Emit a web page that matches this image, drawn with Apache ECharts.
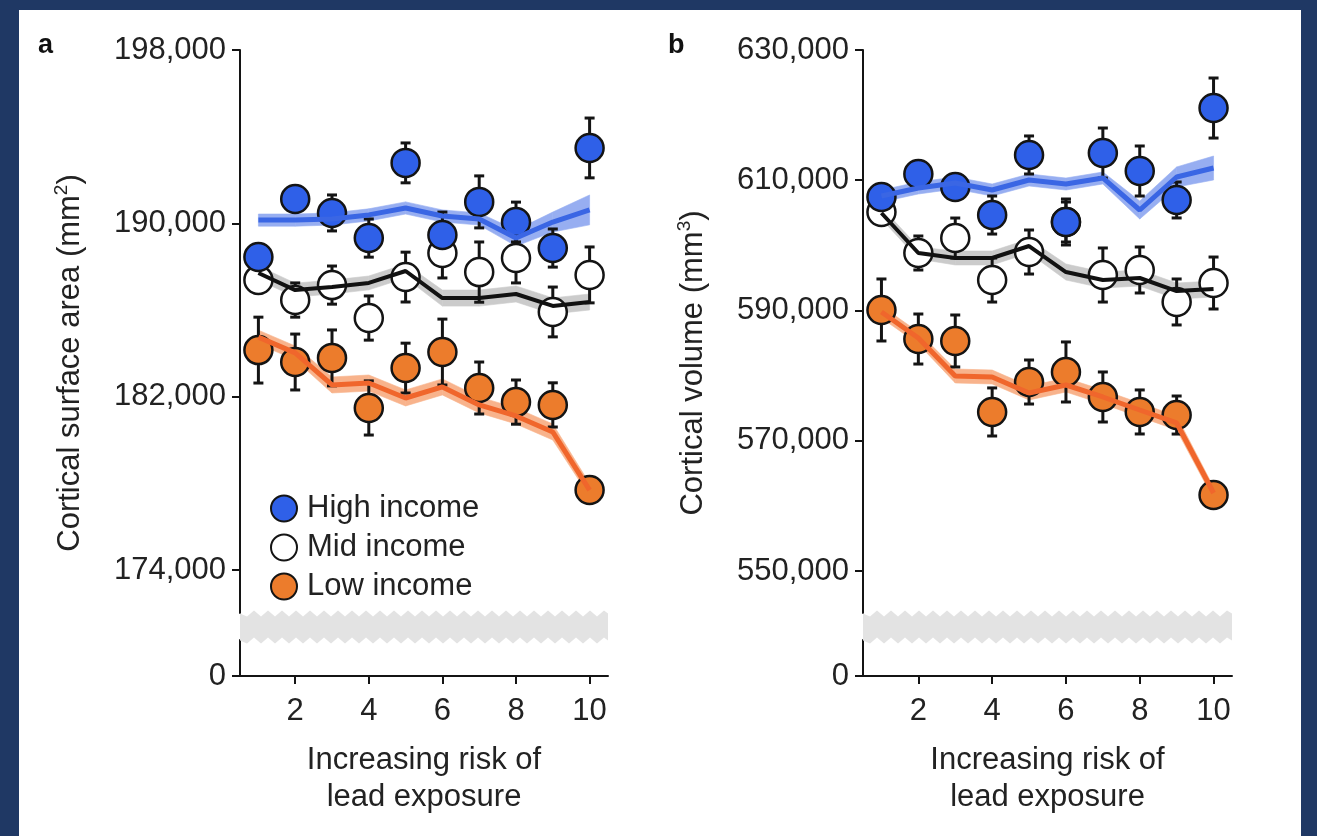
<!DOCTYPE html>
<html lang="en">
<head>
    <meta charset="UTF-8">
    <title>Cortical surface area and volume by lead exposure risk</title>
    <script src="https://cdn.jsdelivr.net/npm/echarts@6.0.0/dist/echarts.min.js"></script>
    <style>
        html, body { margin: 0; padding: 0; background: #1f3864; }
    </style>
</head>
<body>
    <div id="main" style="width:1317px;height:836px;"></div>

    <script>
        // risk deciles
        const xs = [1, 2, 3, 4, 5, 6, 7, 8, 9, 10];
        const xTicks = [2, 4, 6, 8, 10];

        // panel a: cortical surface area (mm2)
        const aTicks = [0, 174000, 182000, 190000, 198000];
        const aHighMean = [188450, 191120, 190480, 189320, 192790, 189460, 190990, 190060, 188860, 193480];
        const aHighErr  = [370, 460, 830, 880, 920, 1060, 1200, 920, 880, 1380];
        const aMidMean  = [187390, 186460, 187150, 185630, 187520, 188630, 187750, 188400, 185910, 187620];
        const aMidErr   = [600, 790, 880, 1020, 1150, 1150, 1390, 1150, 1150, 1290];
        const aLowMean  = [184150, 183600, 183790, 181480, 183320, 184060, 182400, 181750, 181620, 177690];
        const aLowErr   = [1520, 1290, 1290, 1250, 1150, 1520, 1200, 1020, 1020, 460];
        const aHighFit  = [190150, 190150, 190200, 190390, 190710, 190340, 190200, 189320, 190060, 190620];
        const aHighBand = [280, 280, 280, 280, 280, 280, 280, 370, 460, 690];
        const aMidFit   = [187710, 186920, 187060, 187250, 187800, 186550, 186550, 186740, 186190, 186370];
        const aMidBand  = [320, 320, 320, 320, 320, 370, 370, 370, 370, 370];
        const aLowFit   = [184750, 184020, 182540, 182630, 181940, 182450, 181620, 181110, 180370, 177690];
        const aLowBand  = [320, 320, 370, 370, 370, 370, 370, 370, 370, 300];

        // panel b: cortical volume (mm3)
        const bTicks = [0, 550000, 570000, 590000, 610000, 630000];
        const bHighMean = [607430, 610960, 608960, 604660, 613880, 603590, 614180, 611420, 606970, 621090];
        const bHighErr  = [1230, 1230, 1840, 2920, 2920, 3530, 3840, 3840, 2760, 4610];
        const bMidMean  = [605130, 598830, 601130, 594680, 598980, 603590, 595450, 596220, 591310, 594220];
        const bMidErr   = [1840, 2610, 3070, 3380, 3380, 3070, 4150, 3530, 3530, 3990];
        const bLowMean  = [590080, 585620, 585320, 574420, 579020, 580560, 576720, 574420, 573950, 561670];
        const bLowErr   = [4760, 3840, 3990, 3690, 3380, 4610, 3840, 3380, 2920, 1230];
        const bHighFit  = [607580, 608810, 609580, 608500, 610040, 609420, 610350, 605430, 610500, 611880];
        const bHighBand = [920, 920, 920, 920, 920, 920, 920, 1380, 1540, 1840];
        const bMidFit   = [604970, 598830, 598060, 598060, 599900, 595910, 594680, 594990, 592990, 593300];
        const bMidBand  = [920, 920, 1070, 1070, 1070, 1230, 1230, 1230, 1230, 1230];
        const bLowFit   = [589770, 585780, 579940, 579790, 577330, 578560, 576720, 574720, 572730, 561980];
        const bLowBand  = [920, 920, 1070, 1070, 1070, 1070, 1070, 1070, 1070, 920];

        const FONT = 'Liberation Sans, Arial, Helvetica, sans-serif';
        const INK = '#141414';

        const styles = {
            high: { name: 'High income', fill: '#2f60e8', line: '#3a66e4', band: '#97aef1' },
            mid:  { name: 'Mid income',  fill: '#ffffff', line: '#111111', band: '#cbcbcb' },
            low:  { name: 'Low income',  fill: '#ec7c2c', line: '#f0662c', band: '#f8b38c' }
        };

        function fmt(v) {
            return String(v).replace(/\B(?=(\d{3})+(?!\d))/g, ',');
        }

        // vertical error bar with caps
        function errRender(params, api) {
            const x = api.value(0);
            const top = api.coord([x, api.value(2)]);
            const bot = api.coord([x, api.value(1)]);
            const cap = 5;
            const st = { stroke: INK, lineWidth: 3 };
            return {
                type: 'group',
                children: [
                    { type: 'line', shape: { x1: top[0], y1: top[1], x2: bot[0], y2: bot[1] }, style: st },
                    { type: 'line', shape: { x1: top[0] - cap, y1: top[1], x2: top[0] + cap, y2: top[1] }, style: st },
                    { type: 'line', shape: { x1: bot[0] - cap, y1: bot[1], x2: bot[0] + cap, y2: bot[1] }, style: st }
                ]
            };
        }

        // one piece of the confidence band between two neighbouring deciles
        function bandRender(params, api) {
            const a0 = api.coord([api.value(0), api.value(1)]);
            const a1 = api.coord([api.value(0), api.value(2)]);
            const b0 = api.coord([api.value(3), api.value(4)]);
            const b1 = api.coord([api.value(3), api.value(5)]);
            const c = api.visual('color');
            return {
                type: 'polygon',
                shape: { points: [a0, b0, b1, a1] },
                style: { fill: c, stroke: c, lineWidth: 0.6 }
            };
        }

        function panelSeries(gi, groups) {
            const out = [];
            // fitted line with confidence band
            groups.forEach(function (g) {
                const st = styles[g.key];
                const segs = [];
                for (let i = 0; i < xs.length - 1; i++) {
                    segs.push([xs[i], g.fit[i] - g.band[i], g.fit[i] + g.band[i],
                               xs[i + 1], g.fit[i + 1] - g.band[i + 1], g.fit[i + 1] + g.band[i + 1]]);
                }
                out.push({
                    type: 'custom', xAxisIndex: gi, yAxisIndex: gi, silent: true,
                    renderItem: bandRender,
                    itemStyle: { color: st.band },
                    encode: { x: [0, 3], y: [1, 2, 4, 5] },
                    data: segs
                });
                out.push({
                    type: 'line', xAxisIndex: gi, yAxisIndex: gi,
                    symbol: 'none', silent: true,
                    lineStyle: { color: st.line, width: g.key === 'mid' ? 4 : 5 },
                    data: xs.map((x, i) => [x, g.fit[i]])
                });
            });
            // error bars and means, low first so high sits on top
            groups.slice().reverse().forEach(function (g) {
                const st = styles[g.key];
                out.push({
                    type: 'custom', xAxisIndex: gi, yAxisIndex: gi,
                    renderItem: errRender, silent: true,
                    encode: { x: 0, y: [1, 2] },
                    data: xs.map((x, i) => [x, g.mean[i] - g.err[i], g.mean[i] + g.err[i]])
                });
                out.push({
                    name: st.name,
                    type: 'scatter', xAxisIndex: gi, yAxisIndex: gi,
                    symbol: 'circle', symbolSize: 28,
                    itemStyle: { color: st.fill, borderColor: INK, borderWidth: 2.5, opacity: 1 },
                    data: xs.map((x, i) => [x, g.mean[i]])
                });
            });
            return out;
        }

        function yAxisFor(gi, ticks, max, brk, name) {
            return {
                gridIndex: gi, type: 'value', min: 0, max: max,
                breaks: [brk],
                breakArea: {
                    show: true,
                    itemStyle: { color: '#e3e3e3', borderWidth: 0, borderColor: 'rgba(0,0,0,0)', opacity: 1 },
                    zigzagAmplitude: 3,
                    zigzagMinSpan: 7,
                    zigzagMaxSpan: 7,
                    expandOnClick: false
                },
                axisLine: { show: true, lineStyle: { color: INK, width: 2 } },
                axisTick: { show: true, length: 8, lineStyle: { color: INK, width: 2 }, customValues: ticks },
                axisLabel: { fontSize: 31, color: '#222', margin: 14, fontFamily: FONT, customValues: ticks, formatter: fmt },
                splitLine: { show: false },
                name: name,
                nameLocation: 'middle',
                nameGap: 152,
                nameTextStyle: {
                    fontSize: 31, color: '#222', fontFamily: FONT, lineHeight: 36,
                    rich: { sup: { fontSize: 19, verticalAlign: 'top', lineHeight: 36, color: '#222', fontFamily: FONT } }
                }
            };
        }

        function xAxisFor(gi) {
            return {
                gridIndex: gi, type: 'value', min: 0.5, max: 10.5,
                axisLine: { show: true, onZero: false, lineStyle: { color: INK, width: 2 } },
                axisTick: { show: true, length: 8, lineStyle: { color: INK, width: 2 }, customValues: xTicks },
                axisLabel: { fontSize: 31, color: '#222', margin: 20, fontFamily: FONT, customValues: xTicks },
                splitLine: { show: false },
                name: 'Increasing risk of\nlead exposure',
                nameLocation: 'middle',
                nameGap: 66,
                nameTextStyle: { fontSize: 31, color: '#222', fontFamily: FONT, lineHeight: 37 }
            };
        }

        const groupsA = [
            { key: 'high', mean: aHighMean, err: aHighErr, fit: aHighFit, band: aHighBand },
            { key: 'mid',  mean: aMidMean,  err: aMidErr,  fit: aMidFit,  band: aMidBand },
            { key: 'low',  mean: aLowMean,  err: aLowErr,  fit: aLowFit,  band: aLowBand }
        ];
        const groupsB = [
            { key: 'high', mean: bHighMean, err: bHighErr, fit: bHighFit, band: bHighBand },
            { key: 'mid',  mean: bMidMean,  err: bMidErr,  fit: bMidFit,  band: bMidBand },
            { key: 'low',  mean: bLowMean,  err: bLowErr,  fit: bLowFit,  band: bLowBand }
        ];

        const option = {
            animation: false,
            backgroundColor: '#1f3864',
            textStyle: { fontFamily: FONT },
            graphic: [
                { type: 'rect', z: -10, shape: { x: 19, y: 10, width: 1282, height: 830 }, style: { fill: '#ffffff' } },
                { type: 'text', left: 38, top: 32, style: { text: 'a', font: 'bold 27px ' + FONT, fill: '#111' } },
                { type: 'text', left: 668, top: 32, style: { text: 'b', font: 'bold 27px ' + FONT, fill: '#111' } }
            ],
            legend: {
                orient: 'vertical',
                left: 265, top: 488,
                itemWidth: 26, itemHeight: 26, itemGap: 8,
                icon: 'circle',
                data: ['High income', 'Mid income', 'Low income'],
                textStyle: { fontSize: 31, color: '#222', fontFamily: FONT, lineHeight: 31, padding: [0, 0, 0, 5] },
                selectedMode: false
            },
            grid: [
                { left: 240, top: 50, width: 368, height: 626 },
                { left: 863, top: 50, width: 369, height: 626 }
            ],
            xAxis: [xAxisFor(0), xAxisFor(1)],
            yAxis: [
                yAxisFor(0, aTicks, 198000, { start: 1660, end: 172015, gap: 1246 }, 'Cortical surface area (mm{sup|2})'),
                yAxisFor(1, bTicks, 630000, { start: 5528, end: 543551, gap: 4146 }, 'Cortical volume (mm{sup|3})')
            ],
            series: panelSeries(0, groupsA).concat(panelSeries(1, groupsB))
        };

        var myChart = echarts.init(document.getElementById('main'));
        myChart.setOption(option);
    </script>
</body>
</html>
